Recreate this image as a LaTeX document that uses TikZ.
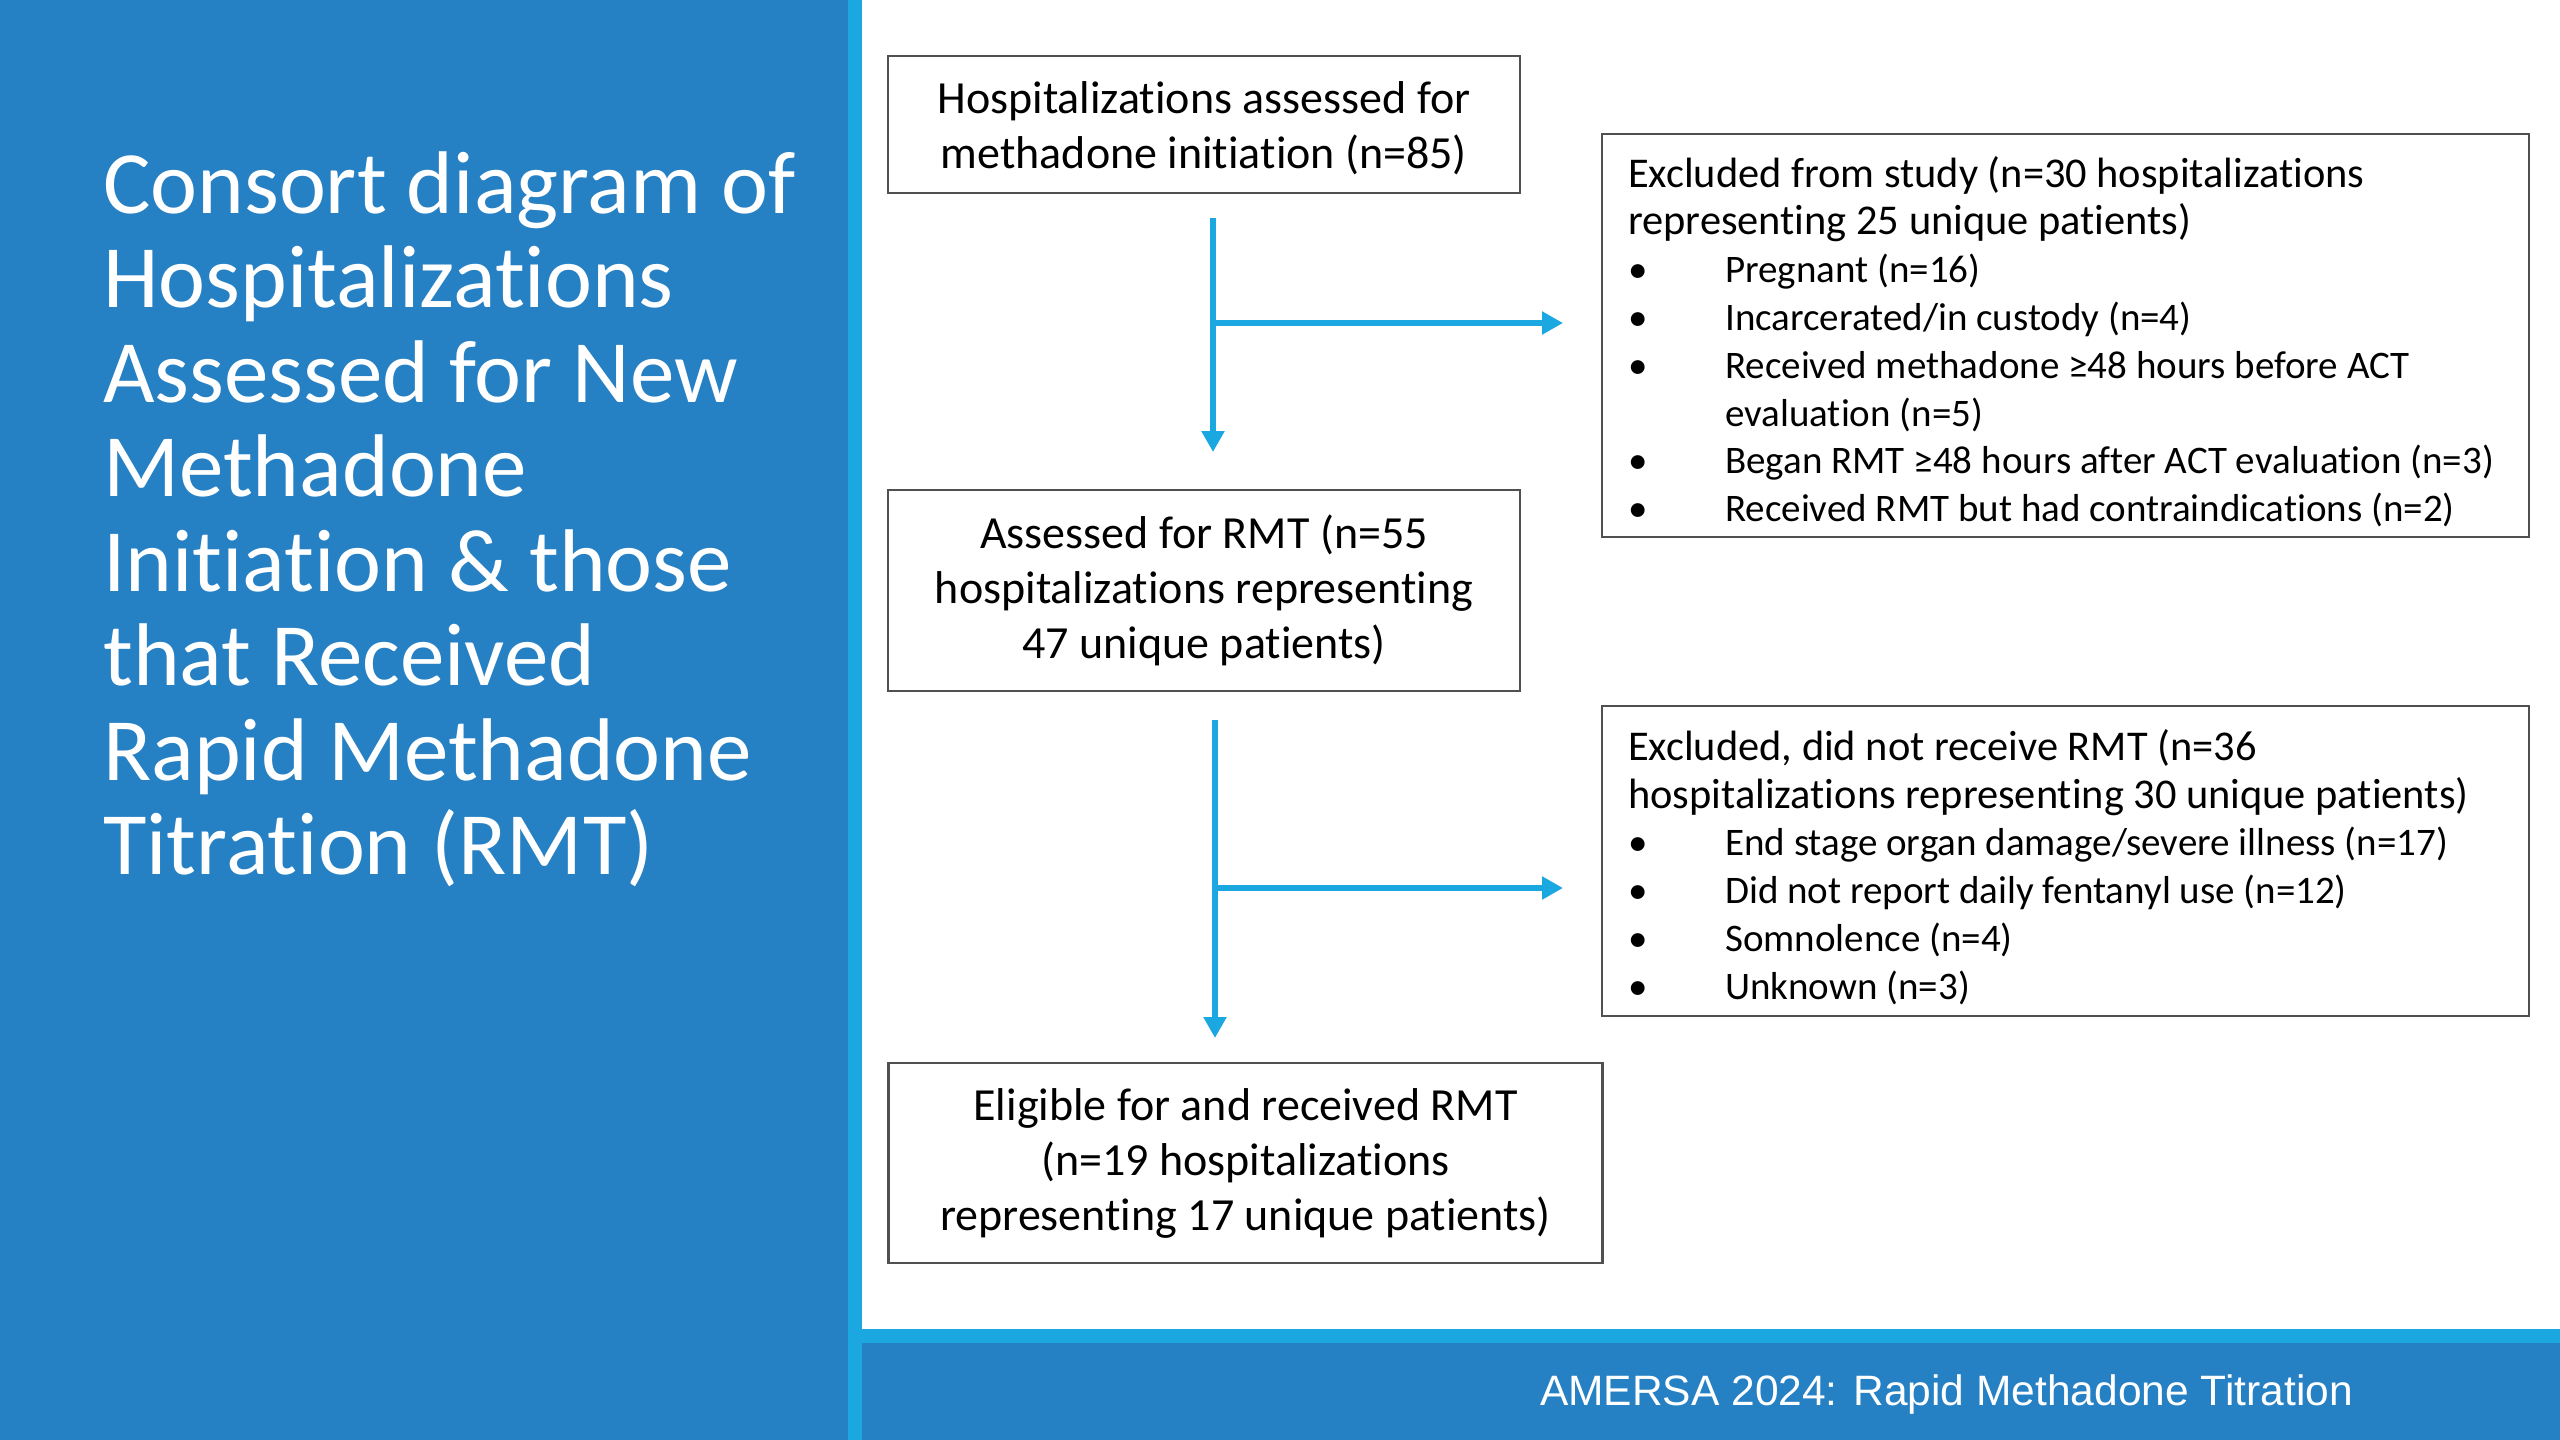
\documentclass[tikz,border=0pt]{standalone}
\usepackage{fontspec}
\setmainfont{Carlito}[Ligatures=NoCommon]
\newfontfamily\footfont{Liberation Sans}
\usetikzlibrary{arrows.meta}
\definecolor{dblue}{RGB}{38,128,196}
\definecolor{lblue}{RGB}{27,167,224}
\definecolor{boxline}{RGB}{80,80,80}
\newcommand{\bul}{\fontsize{39}{47.8}\selectfont\makebox[97pt][l]{•}}
\newcommand{\bulind}{\fontsize{39}{47.8}\selectfont\hspace*{97pt}}
\begin{document}
\begin{tikzpicture}[x=1pt,y=-1pt,
  cbox/.style={draw=boxline, line width=2.5pt, fill=white, outer sep=0pt, inner sep=0pt, align=center, font=\fontsize{46}{55}\selectfont},
  lbox/.style={draw=boxline, line width=2.5pt, fill=white, outer sep=0pt, inner sep=0pt, anchor=north west},
  ltext/.style={anchor=north west, inner sep=0pt, align=left, font=\fontsize{42.4}{47.8}\selectfont},
  arr/.style={draw=lblue, line width=5.5pt, -{Triangle[length=21pt,width=22pt]}},
  panel/.style={fill=dblue, draw=none},
  stripe/.style={fill=lblue, draw=none}]
\useasboundingbox (0,0) rectangle (2560,1440);
% backgrounds
\fill[white] (0,0) rectangle (2560,1440);
\fill[panel] (0,0) rectangle (848,1440);
\fill[stripe] (848,0) rectangle (862,1440);
\fill[stripe] (862,1329) rectangle (2560,1343);
\fill[panel] (862,1343) rectangle (2560,1440);
% title
\node[anchor=north west, inner sep=0pt, align=left, text=white, font=\fontsize{89}{94.5}\selectfont] (title) at (103,151)
  {Consort diagram of\\Hospitalizations\\Assessed for New\\Methadone\\Initiation \& those\\that Received\\Rapid Methadone\\Titration (RMT)};
% footer
\node[anchor=base west, inner sep=0pt, text=white, font=\footfont\fontsize{42.5}{50}\selectfont] (foot) at (1540,1405)
  {AMERSA 2024: Rapid Methadone Titration};
% main boxes
\node[cbox, minimum width=632pt, minimum height=137pt] (b1) at (1204,124.5)
  {\rule{0pt}{39pt}Hospitalizations assessed for\\methadone initiation (n=85)};
\node[cbox, minimum width=632pt, minimum height=201pt] (b2) at (1204,590.5)
  {Assessed for RMT (n=55\\hospitalizations representing\\47 unique patients)};
\node[cbox, minimum width=714pt, minimum height=200pt] (b3) at (1245.5,1163)
  {Eligible for and received RMT\\(n=19 hospitalizations\\representing 17 unique patients)};
% exclusion boxes
\node[lbox, minimum width=927pt, minimum height=403pt] (ex1) at (1602,134) {};
\node[ltext] (ex1t) at (1628,156)
  {Excluded from study (n=30 hospitalizations\\
   representing 25 unique patients)\\
   \bul Pregnant (n=16)\\
   \bul Incarcerated/in custody (n=4)\\
   \bul Received methadone ≥48 hours before ACT\\
   \bulind evaluation (n=5)\\
   \bul Began RMT ≥48 hours after ACT evaluation (n=3)\\
   \bul Received RMT but had contraindications (n=2)};
\node[lbox, minimum width=927pt, minimum height=310pt] (ex2) at (1602,706) {};
\node[ltext] (ex2t) at (1628,729)
  {Excluded, did not receive RMT (n=36\\
   hospitalizations representing 30 unique patients)\\
   \bul End stage organ damage/severe illness (n=17)\\
   \bul Did not report daily fentanyl use (n=12)\\
   \bul Somnolence (n=4)\\
   \bul Unknown (n=3)};
% connectors
\coordinate (j1) at (1213,323);
\coordinate (j2) at (1215,888);
\draw[arr, shorten <=25pt, shorten >=38pt] ([xshift=9pt]b1.south) -- ([xshift=9pt]b2.north);
\draw[arr, shorten >=39pt] (j1) -- (j1 -| ex1.west);
\draw[arr, shorten <=29pt, shorten >=25pt] ([xshift=11pt]b2.south) -- ([xshift=11pt]b2.south |- b3.north);
\draw[arr, shorten >=39pt] (j2) -- (j2 -| ex2.west);
\end{tikzpicture}
\end{document}
